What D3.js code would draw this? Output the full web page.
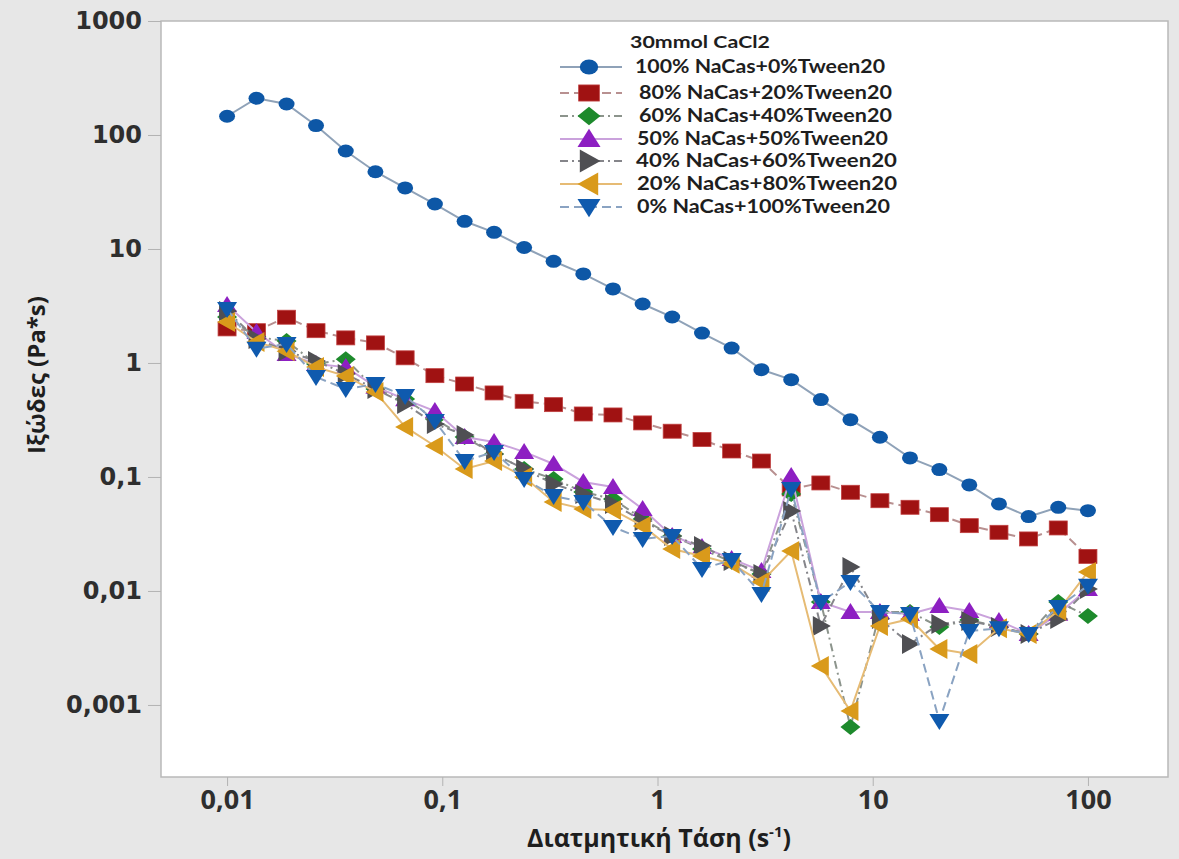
<!DOCTYPE html>
<html>
<head>
<meta charset="utf-8">
<script src="https://cdn.jsdelivr.net/npm/d3@7.9.0/dist/d3.min.js"></script>
<style>
  html, body { margin: 0; padding: 0; background: #e7e7e7; }
  svg { display: block; }
</style>
</head>
<body>
<svg id="chart" width="1179" height="859"></svg>
<script>
// shear rate points (s^-1)
const shearRate = [0.01, 0.0137, 0.0189, 0.0259, 0.0356, 0.0489, 0.0672, 0.0924, 0.127, 0.174,
  0.240, 0.329, 0.452, 0.621, 0.853, 1.17, 1.61, 2.21, 3.04, 4.18,
  5.74, 7.88, 10.8, 14.9, 20.4, 28.1, 38.6, 53.0, 72.8, 100];

const nacas100 = [146, 210, 187, 121, 72.4, 47.6, 34.3, 24.8, 17.5, 14.0,
  10.3, 7.8, 6.04, 4.46, 3.29, 2.53, 1.83, 1.35, 0.874, 0.714,
  0.477, 0.318, 0.223, 0.147, 0.116, 0.0851, 0.058, 0.0449, 0.0542, 0.0506];
const nacas80 = [1.99, 1.92, 2.52, 1.92, 1.66, 1.50, 1.11, 0.774, 0.654, 0.546,
  0.461, 0.431, 0.357, 0.350, 0.298, 0.252, 0.213, 0.169, 0.138, 0.0785,
  0.0886, 0.0734, 0.0619, 0.0542, 0.0467, 0.0374, 0.0327, 0.0286, 0.0357, 0.0201];
const nacas60 = [2.53, 1.69, 1.56, 0.98, 1.08, 0.59, 0.483, 0.323, 0.224, 0.159,
  0.1175, 0.096, 0.0739, 0.0641, 0.0428, 0.0304, 0.0233, 0.018, 0.0141, 0.071,
  0.008, 0.00064, 0.00655, 0.00655, 0.00483, 0.00557, 0.00483, 0.0042, 0.008, 0.00604];
const nacas50 = [3.23, 1.87, 1.20, 0.98, 0.92, 0.62, 0.48, 0.379, 0.224, 0.203,
  0.166, 0.130, 0.0904, 0.0817, 0.0524, 0.0304, 0.0243, 0.0191, 0.015, 0.102,
  0.008, 0.00655, 0.00655, 0.00628, 0.00738, 0.00668, 0.00546, 0.0042, 0.0063, 0.0104];
const nacas40 = [2.86, 1.62, 1.27, 1.04, 0.80, 0.59, 0.437, 0.292, 0.234, 0.159,
  0.1175, 0.0868, 0.071, 0.058, 0.0411, 0.0304, 0.0248, 0.0183, 0.0141, 0.0503,
  0.00493, 0.01625, 0.00568, 0.00343, 0.00514, 0.00546, 0.00483, 0.0042, 0.00568, 0.0104];
const nacas20 = [2.29, 1.53, 1.27, 0.92, 0.769, 0.557, 0.275, 0.187, 0.1175, 0.138,
  0.100, 0.0604, 0.0524, 0.0514, 0.0372, 0.0233, 0.0203, 0.0173, 0.012, 0.0224,
  0.0022, 0.000886, 0.00493, 0.00568, 0.0031, 0.0028, 0.0047, 0.0042, 0.0067, 0.0147];
const nacas0 = [2.98, 1.33, 1.47, 0.754, 0.59, 0.654, 0.514, 0.31, 0.138, 0.166,
  0.096, 0.068, 0.0604, 0.0364, 0.0286, 0.0304, 0.0156, 0.0187, 0.0094, 0.0785,
  0.008, 0.012, 0.00655, 0.00628, 0.000724, 0.00446, 0.0047, 0.0042, 0.00724, 0.0111];

const seriesNames = ["100% NaCas+0%Tween20", "80% NaCas+20%Tween20", "60% NaCas+40%Tween20",
  "50% NaCas+50%Tween20", "40% NaCas+60%Tween20", "20% NaCas+80%Tween20", "0% NaCas+100%Tween20"];
const seriesValues = [nacas100, nacas80, nacas60, nacas50, nacas40, nacas20, nacas0];

const xTicks = [0.01, 0.1, 1, 10, 100];
const xTickLabels = ["0,01", "0,1", "1", "10", "100"];
const yTicks = [1000, 100, 10, 1, 0.1, 0.01, 0.001];
const yTickLabels = ["1000", "100", "10", "1", "0,1", "0,01", "0,001"];

// look of each series
const styles = [
  { shape: "circle",  fill: "#0d57a6", line: "#8fa2b8", dash: null },
  { shape: "square",  fill: "#a01212", line: "#b89090", dash: "9,5" },
  { shape: "diamond", fill: "#1d8a2c", line: "#8c948c", dash: "8,4,2,4" },
  { shape: "up",      fill: "#8d1fc2", line: "#caa2dc", dash: null },
  { shape: "right",   fill: "#4f4f53", line: "#85858a", dash: "8,4,2,4" },
  { shape: "left",    fill: "#d99a1b", line: "#e6bb74", dash: null },
  { shape: "down",    fill: "#0f5aae", line: "#8aa3c2", dash: "9,5" }
];

const svg = d3.select("#chart");
const plotLeft = 161, plotRight = 1168, plotTop = 21, plotBottom = 777;

const x = d3.scaleLog().domain([Math.pow(10, -2.307), Math.pow(10, 2.372)]).range([plotLeft, plotRight]);
const y = d3.scaleLog().domain([Math.pow(10, -3.632), 1000]).range([plotBottom, plotTop]);

svg.append("rect").attr("width", 1179).attr("height", 859).attr("fill", "#e7e7e7");
svg.append("rect")
  .attr("x", plotLeft).attr("y", plotTop)
  .attr("width", plotRight - plotLeft).attr("height", plotBottom - plotTop)
  .attr("fill", "#fff").attr("stroke", "#b9b9b9").attr("stroke-width", 1.5);

// axes
const yAxis = svg.append("g")
  .attr("transform", `translate(${plotLeft},0)`)
  .call(d3.axisLeft(y).tickValues(yTicks).tickFormat((d, i) => yTickLabels[i]).tickSize(13).tickPadding(6));
yAxis.select(".domain").remove();
yAxis.selectAll(".tick line").attr("stroke", "#b3b3b3");
yAxis.selectAll(".tick text")
  .attr("fill", "#2e2e2e")
  .style("font-family", "'DejaVu Sans', sans-serif")
  .style("font-weight", "bold")
  .style("font-size", "24px");

const xAxis = svg.append("g")
  .attr("transform", `translate(0,${plotBottom})`)
  .call(d3.axisBottom(x).tickValues(xTicks).tickFormat((d, i) => xTickLabels[i]).tickSize(9).tickPadding(4));
xAxis.select(".domain").remove();
xAxis.selectAll(".tick line").attr("stroke", "#b3b3b3");
xAxis.selectAll(".tick text")
  .attr("fill", "#2e2e2e")
  .style("font-family", "'Open Sans', sans-serif")
  .style("font-weight", "bold")
  .style("font-size", "27px");

// axis titles
svg.append("text")
  .attr("transform", "translate(45,375) rotate(-90)")
  .attr("text-anchor", "middle")
  .attr("fill", "#1e1e1e")
  .style("font-family", "'Open Sans', sans-serif")
  .style("font-weight", "bold")
  .style("font-size", "24px")
  .text("Ιξώδες (Pa*s)");

const xTitle = svg.append("text")
  .attr("x", 659).attr("y", 847)
  .attr("text-anchor", "middle")
  .attr("fill", "#1e1e1e")
  .style("font-family", "'Open Sans', sans-serif")
  .style("font-weight", "bold")
  .style("font-size", "25px");
xTitle.append("tspan").text("Διατμητική Τάση (s");
xTitle.append("tspan").attr("dy", -10).style("font-size", "15px").text("-1");
xTitle.append("tspan").attr("dy", 10).text(")");

// marker drawing
function drawMarker(g, shape, fill, cx, cy, s) {
  const k = s || 1;
  if (shape === "circle") {
    g.append("ellipse").attr("cx", cx).attr("cy", cy).attr("rx", 8 * k).attr("ry", 6.5 * k).attr("fill", fill);
    return;
  }
  if (shape === "square") {
    g.append("rect").attr("x", cx - 9 * k).attr("y", cy - 7 * k).attr("width", 18 * k).attr("height", 14 * k)
      .attr("fill", fill).attr("stroke", "#c04040").attr("stroke-width", 0.8);
    return;
  }
  let pts;
  if (shape === "diamond") pts = [[0, -8], [10, 0], [0, 8], [-10, 0]];
  if (shape === "up") pts = [[0, -9], [10, 7], [-10, 7]];
  if (shape === "down") pts = [[0, 9], [10, -7], [-10, -7]];
  if (shape === "right") pts = [[10, 0], [-8, -10], [-8, 10]];
  if (shape === "left") pts = [[-10, 0], [8, -10], [8, 10]];
  g.append("polygon")
    .attr("points", pts.map(p => `${cx + p[0] * k},${cy + p[1] * k}`).join(" "))
    .attr("fill", fill);
}

const line = d3.line().x(d => x(d[0])).y(d => y(d[1]));
const plot = svg.append("g");

seriesValues.forEach((vals, i) => {
  const st = styles[i];
  const pts = shearRate.map((r, j) => [r, vals[j]]);
  const g = plot.append("g");
  g.append("path")
    .attr("d", line(pts))
    .attr("fill", "none")
    .attr("stroke", st.line)
    .attr("stroke-width", 2)
    .attr("stroke-dasharray", st.dash);
  pts.forEach(p => drawMarker(g, st.shape, st.fill, x(p[0]), y(p[1])));
});

// legend
const legend = svg.append("g");
legend.append("text")
  .attr("x", 630).attr("y", 42)
  .attr("dy", "0.35em")
  .attr("textLength", 140)
  .attr("lengthAdjust", "spacingAndGlyphs")
  .attr("fill", "#1e1e1e")
  .style("font-family", "Lato, sans-serif")
  .style("font-weight", "bold")
  .style("font-size", "17px")
  .text("30mmol CaCl2");

const legendY = [67, 93, 116, 139, 161, 184, 207];
const legendTextX = [635, 639, 639, 637, 636, 637, 637];
const legendTextW = [250, 253, 253, 251, 261, 260, 253];
seriesNames.forEach((name, i) => {
  const st = styles[i];
  const ly = legendY[i];
  legend.append("line")
    .attr("x1", 560).attr("x2", 622).attr("y1", ly).attr("y2", ly)
    .attr("stroke", st.line).attr("stroke-width", 2)
    .attr("stroke-dasharray", st.dash);
  drawMarker(legend, st.shape, st.fill, 589, ly, 1.15);
  legend.append("text")
    .attr("x", legendTextX[i]).attr("y", ly)
    .attr("dy", "0.35em")
    .attr("textLength", legendTextW[i])
    .attr("lengthAdjust", "spacingAndGlyphs")
    .attr("fill", "#1e1e1e")
    .style("font-family", "Lato, sans-serif")
    .style("font-weight", "bold")
    .style("font-size", "18px")
    .text(name);
});
</script>
</body>
</html>
